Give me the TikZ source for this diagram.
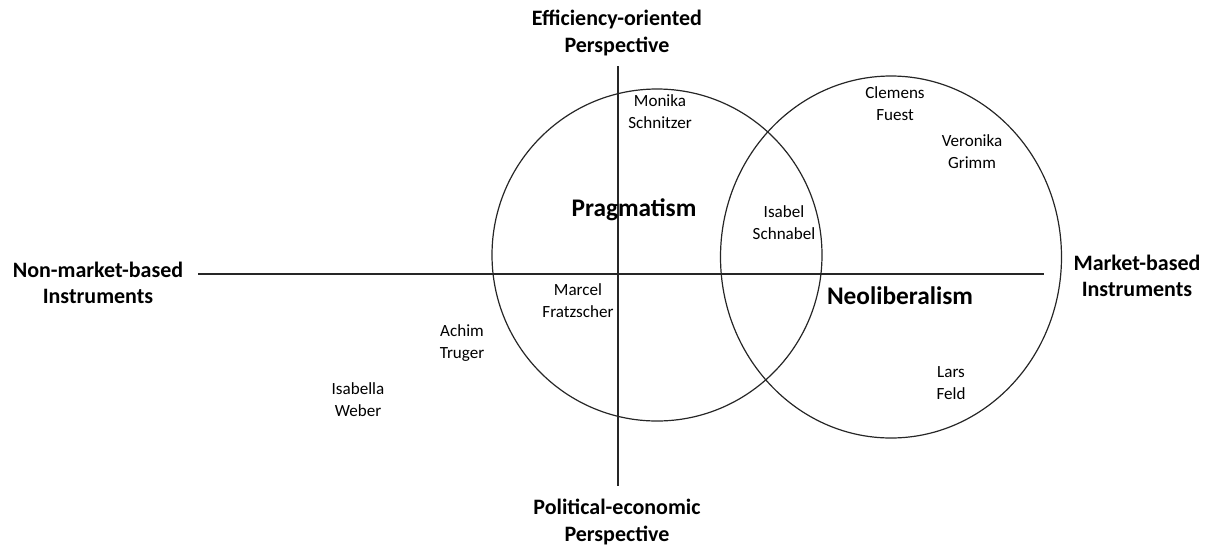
\documentclass[tikz,border=0pt]{standalone}
\usepackage{fontspec}
\setmainfont{Carlito}
\usetikzlibrary{shapes.geometric}
\begin{document}
\begin{tikzpicture}[x=0.75pt,y=-0.75pt,
  axislabel/.style={font=\fontsize{16.5}{20}\selectfont\bfseries, align=center, inner sep=0pt},
  person/.style={font=\fontsize{12.8}{16.5}\selectfont, align=center, inner sep=0pt},
  school/.style={font=\fontsize{19}{23}\selectfont\bfseries, inner sep=0pt},
  axis/.style={line width=0.9pt, draw=black!85},
  venn/.style={draw=black!85, line width=0.9pt, ellipse, inner sep=0pt}]
\useasboundingbox (0,0) rectangle (1209,547);
% ellipses
\node[venn, minimum width=330*0.75pt, minimum height=332*0.75pt] (prag) at (657,255) {};
\node[venn, minimum width=341*0.75pt, minimum height=362*0.75pt] (neo) at (891,257) {};
% axes
\coordinate (vtop) at (618,66);
\coordinate (vbot) at (618,486);
\coordinate (hleft) at (198,274);
\coordinate (hright) at (1044,274);
\draw[axis] (vtop) -- (vbot);
\draw[axis] (hleft) -- (hright);
% axis labels
\node[axislabel] (eff) at (617,33) {Efficiency-oriented\\Perspective};
\node[axislabel] (pol) at (617,522) {Political-economic\\Perspective};
\node[axislabel] (nonm) at (98,283) {Non-market-based\\Instruments};
\node[axislabel] (mark) at (1137,276) {Market-based\\Instruments};
% schools
\node[school] (pragl) at (634,210) {Pragmatism};
\node[school] (neol) at (900,296) {Neoliberalism};
% people
\node[person] (schnitzer) at (660,112) {Monika\\Schnitzer};
\node[person] (fuest) at (895,104) {Clemens\\Fuest};
\node[person] (grimm) at (972,152) {Veronika\\Grimm};
\node[person] (schnabel) at (784,223) {Isabel\\Schnabel};
\node[person] (fratzscher) at (578,301) {Marcel\\Fratzscher};
\node[person] (truger) at (462,343) {Achim\\Truger};
\node[person] (weber) at (358,400) {Isabella\\Weber};
\node[person] (feld) at (951,383) {Lars\\Feld};
\end{tikzpicture}
\end{document}
